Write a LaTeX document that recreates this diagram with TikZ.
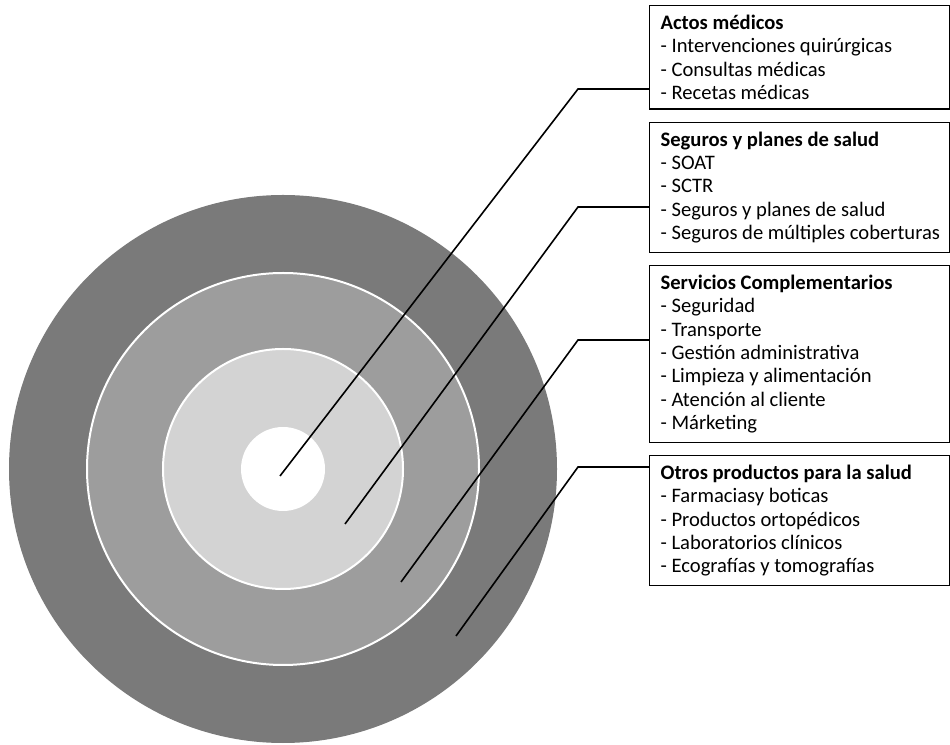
\documentclass[tikz,border=0pt]{standalone}
\usepackage{fontspec}
\setmainfont{Carlito}
\usepackage{tikz}
\usetikzlibrary{positioning,calc}
\definecolor{ringa}{HTML}{7A7A7A}
\definecolor{ringb}{HTML}{9D9D9D}
\definecolor{ringc}{HTML}{D3D3D3}
\newcommand\boxfont{\fontsize{20.6}{23.3}\selectfont\hyphenpenalty=10000\relax}
\tikzset{
  catbox/.style={draw=black,fill=white,line width=1.2pt,text width=286pt,
    minimum width=300pt,inner xsep=7pt,inner ysep=9.5pt,align=flush left,
    font=\boxfont,text=black,execute at begin node={\leftskip=4pt\relax}},
  ring/.style={draw=white,line width=2pt},
  lead/.style={draw=black,line width=1.6pt},
  node distance=12pt
}
\begin{document}
\begin{tikzpicture}[x=1pt,y=1pt]
  \useasboundingbox (0,0) rectangle (950,744);
  % target
  \fill[ringa] (283,275) circle (274);
  \filldraw[ring,fill=ringb] (283,275) circle (196);
  \filldraw[ring,fill=ringc] (283,275) circle (120);
  \fill[white] (283,275) circle (42);
  % categories
  \node[catbox,anchor=north west] (b1) at (649,739) {\textbf{Actos médicos}\\
    - Intervenciones quirúrgicas\\- Consultas médicas\\- Recetas médicas};
  \node[catbox,below=of b1] (b2) {\textbf{Seguros y planes de salud}\\
    - SOAT\\- SCTR\\- Seguros y planes de salud\\- Seguros de múltiples coberturas};
  \node[catbox,below=of b2] (b3) {\textbf{Servicios Complementarios}\\
    - Seguridad\\- Transporte\\- Gestión administrativa\\- Limpieza y alimentación\\
    - Atención al cliente\\- Márketing};
  \node[catbox,below=of b3] (b4) {\textbf{Otros productos para la salud}\\
    - Farmaciasy boticas\\- Productos ortopédicos\\- Laboratorios clínicos\\
    - Ecografías y tomografías};
  % leaders
  \coordinate (t1) at (280,268);  \coordinate (e1) at (578,655);
  \coordinate (t2) at (345,220);  \coordinate (e2) at (578,537);
  \coordinate (t3) at (401,162);  \coordinate (e3) at (578,404);
  \coordinate (t4) at (456,108);  \coordinate (e4) at (578,277);
  \foreach \i in {1,2,3,4}{
    \draw[lead] (t\i) -- (e\i) -- (e\i -| b\i.west);
  }
\end{tikzpicture}
\end{document}
